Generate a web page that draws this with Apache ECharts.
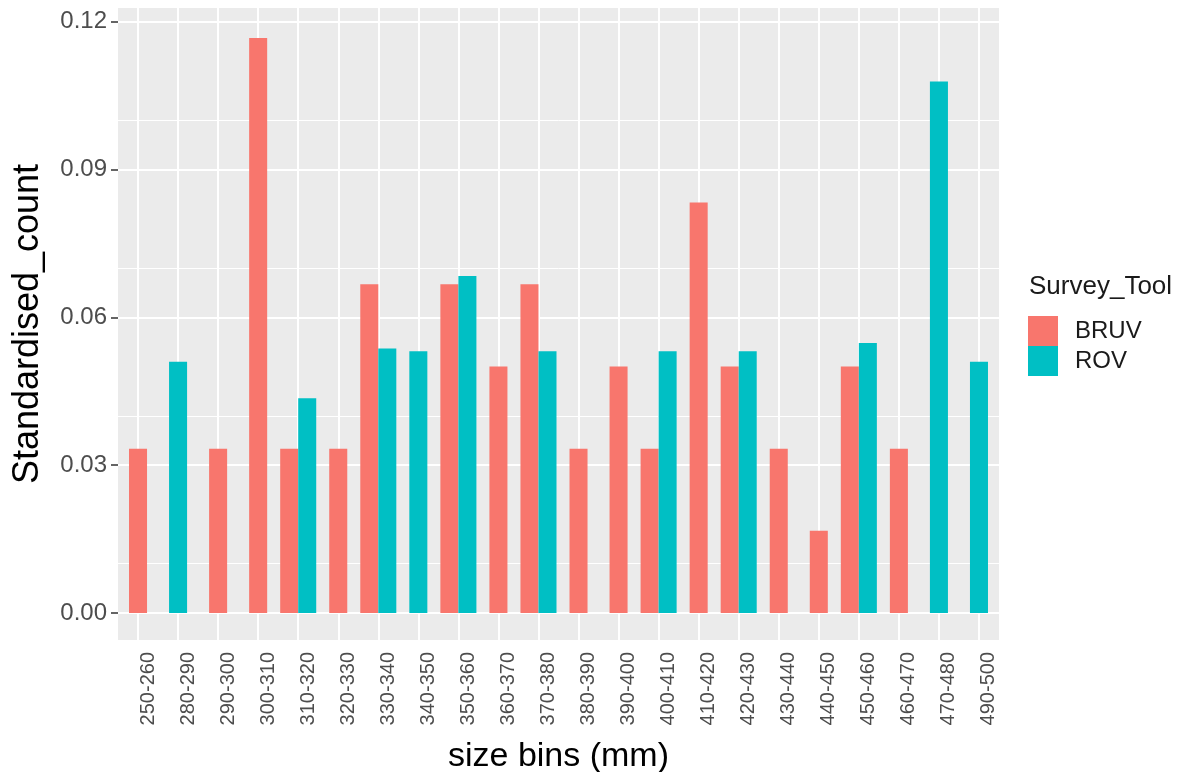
<!DOCTYPE html>
<html>
<head>
<meta charset="utf-8">
<script src="https://cdn.jsdelivr.net/npm/echarts@6/dist/echarts.min.js"></script>
<style>
html,body{margin:0;padding:0;background:#fff;}
#chart{width:1193px;height:772px;}
</style>
</head>
<body>
<div id="chart"></div>
<script>
const categories = ['250-260','280-290','290-300','300-310','310-320','320-330','330-340','340-350','350-360','360-370','370-380','380-390','390-400','400-410','410-420','420-430','430-440','440-450','450-460','460-470','470-480','490-500'];
const bruv = [0.0333,null,0.0333,0.1167,0.0333,0.0333,0.0667,null,0.0667,0.05,0.0667,0.0333,0.05,0.0333,0.0833,0.05,0.0333,0.0167,0.05,0.0333,null,null];
const rov  = [null,0.0510,null,null,0.0436,null,0.0537,0.0531,0.0684,null,0.0531,null,null,0.0531,null,0.0531,null,null,0.0548,null,0.1079,0.0510];
const yTicks = [0, 0.03, 0.06, 0.09, 0.12];
const yMinor = [0.015, 0.045, 0.075, 0.105];
const seriesNames = ['BRUV', 'ROV'];
const colors = ['#F8766D', '#00BFC4'];

const FONT = 'Liberation Sans, Arial, sans-serif';

function makeData(arr) {
  const out = [];
  arr.forEach((v, i) => { if (v != null) out.push([i, v]); });
  return out;
}

function makeRender(own, other, side) {
  return function (params, api) {
    const i = api.value(0);
    const v = api.value(1);
    const band = api.size([1, 0])[0];
    const w = band * 0.45;
    const base = api.coord([i, 0]);
    const top = api.coord([i, v]);
    const paired = other[i] != null;
    let x;
    if (paired) {
      x = side === 0 ? base[0] - w : base[0];
    } else {
      x = base[0] - w / 2;
    }
    return {
      type: 'rect',
      shape: { x: x, y: top[1], width: w, height: base[1] - top[1] },
      style: api.style()
    };
  };
}

const gridLines = [];
yTicks.forEach(v => gridLines.push({ yAxis: v, lineStyle: { width: 2 } }));
yMinor.forEach(v => gridLines.push({ yAxis: v, lineStyle: { width: 1 } }));
categories.forEach(c => gridLines.push({ xAxis: c, lineStyle: { width: 2 } }));

const chart = echarts.init(document.getElementById('chart'), null, { renderer: 'canvas' });
chart.setOption({
  animation: false,
  backgroundColor: '#ffffff',
  textStyle: { fontFamily: FONT },
  title: {
    text: 'Survey_Tool',
    left: 1029,
    top: 274,
    padding: 0,
    textStyle: { fontSize: 26, fontWeight: 'normal', color: '#1a1a1a', fontFamily: FONT }
  },
  legend: {
    data: seriesNames,
    orient: 'vertical',
    left: 1028,
    top: 316,
    padding: 0,
    itemWidth: 30,
    itemHeight: 30,
    itemGap: 0,
    icon: 'rect',
    textStyle: { fontSize: 24, color: '#1a1a1a', fontFamily: FONT, padding: [0, 0, 0, 12] }
  },
  grid: {
    left: 118,
    right: 194,
    top: 8,
    bottom: 132,
    containLabel: false,
    outerBoundsMode: 'none',
    show: true,
    backgroundColor: '#EBEBEB',
    borderWidth: 0
  },
  xAxis: {
    type: 'category',
    data: categories,
    boundaryGap: true,
    axisLine: { show: false },
    axisTick: { show: true, alignWithLabel: true, length: 7, lineStyle: { color: '#333333', width: 1.5 } },
    axisLabel: { interval: 0, rotate: 90, fontSize: 20, color: '#4D4D4D', margin: 12, fontFamily: FONT, verticalAlign: 'top' },
    splitLine: { show: false },
    name: 'size bins (mm)',
    nameLocation: 'middle',
    nameGap: 100,
    nameTextStyle: { fontSize: 34, color: '#000000', fontFamily: FONT }
  },
  yAxis: {
    type: 'value',
    min: -0.0055,
    max: 0.1228,
    minInterval: 0.03,
    maxInterval: 0.03,
    axisLine: { show: false },
    axisTick: { show: true, length: 7, customValues: yTicks, lineStyle: { color: '#333333', width: 1.5 } },
    axisLabel: {
      customValues: yTicks,
      fontSize: 24,
      color: '#4D4D4D',
      margin: 11,
      fontFamily: FONT,
      formatter: v => v.toFixed(2)
    },
    splitLine: { show: false },
    name: 'Standardised_count',
    nameLocation: 'middle',
    nameGap: 72,
    nameTextStyle: { fontSize: 36, color: '#000000', fontFamily: FONT }
  },
  series: [
    {
      type: 'line',
      name: 'grid',
      data: [],
      z: 1,
      silent: true,
      markLine: {
        z: 1,
        silent: true,
        symbol: 'none',
        label: { show: false },
        lineStyle: { color: '#ffffff', type: 'solid', width: 2 },
        emphasis: { disabled: true },
        data: gridLines
      }
    },
    {
      type: 'custom',
      name: seriesNames[0],
      z: 4,
      itemStyle: { color: colors[0] },
      encode: { x: 0, y: 1 },
      data: makeData(bruv),
      renderItem: makeRender(bruv, rov, 0)
    },
    {
      type: 'custom',
      name: seriesNames[1],
      z: 4,
      itemStyle: { color: colors[1] },
      encode: { x: 0, y: 1 },
      data: makeData(rov),
      renderItem: makeRender(rov, bruv, 1)
    }
  ]
});
</script>
</body>
</html>
